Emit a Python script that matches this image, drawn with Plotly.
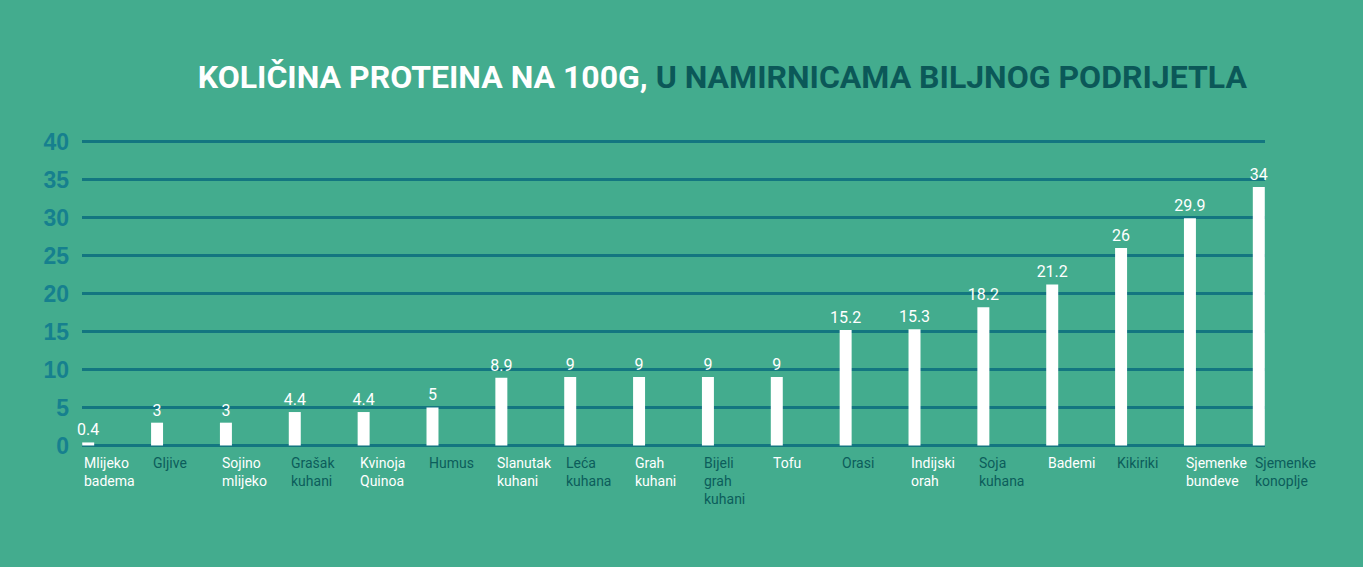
import plotly.graph_objects as go

# Data: protein per 100g in plant foods
categories = ["Mlijeko<br>badema", "Gljive", "Sojino<br>mlijeko", "Grašak<br>kuhani",
              "Kvinoja<br>Quinoa", "Humus", "Slanutak<br>kuhani", "Leća<br>kuhana",
              "Grah<br>kuhani", "Bijeli<br>grah<br>kuhani", "Tofu", "Orasi",
              "Indijski<br>orah", "Soja<br>kuhana", "Bademi", "Kikiriki",
              "Sjemenke<br>bundeve", "Sjemenke<br>konoplje"]
values = [0.4, 3, 3, 4.4, 4.4, 5, 8.9, 9, 9, 9, 9, 15.2, 15.3, 18.2, 21.2, 26, 29.9, 34]
value_labels = ["0.4", "3", "3", "4.4", "4.4", "5", "8.9", "9", "9", "9", "9",
                "15.2", "15.3", "18.2", "21.2", "26", "29.9", "34"]
y_ticks = [0, 5, 10, 15, 20, 25, 30, 35, 40]

BG = "#43ac8e"
GRID = "#137680"
DARK = "#0c5d5b"
NARROW = "Roboto, sans-serif"

idx = list(range(len(categories)))
bar_w = 0.174

fig = go.Figure(go.Bar(
    x=idx,
    y=values,
    width=bar_w,
    marker=dict(color="white", line=dict(width=0)),
    text=value_labels,
    textposition="outside",
    constraintext="none",
    textfont=dict(color="white", size=16, family=NARROW),
    cliponaxis=False,
))

# category labels, left aligned under each bar, alternating colours
for i, lab in enumerate(categories):
    fig.add_annotation(
        x=i - bar_w / 2, y=0, xref="x", yref="y",
        text=lab, showarrow=False,
        xanchor="left", yanchor="top", align="left", yshift=-8,
        font=dict(size=14, family=NARROW, color="white" if i % 2 == 0 else DARK),
    )

fig.update_layout(
    width=1363, height=567,
    paper_bgcolor=BG, plot_bgcolor=BG,
    margin=dict(l=82, r=98, t=140, b=120),
    showlegend=False,
    title=dict(
        text="KOLIČINA PROTEINA NA 100G, <span style='color:#0b5858'>U NAMIRNICAMA BILJNOG PODRIJETLA</span>",
        x=0.53, xanchor="center", y=0.865, yanchor="middle",
        font=dict(size=32, family=NARROW, color="white", weight="bold"),
    ),
    xaxis=dict(range=[-0.09, len(categories) - 1 + 0.09], showticklabels=False,
               showgrid=False, zeroline=False, showline=False, fixedrange=True),
    yaxis=dict(range=[-0.2, 40.2], tickvals=y_ticks, showgrid=True,
               gridcolor=GRID, gridwidth=3, zeroline=False, showline=False,
               ticklabelstandoff=12,
               tickfont=dict(size=23, family="Liberation Sans, Arial, sans-serif",
                             color="#16808e", weight="bold")),
)

fig.write_html("out.html", config={"displayModeBar": False},
               post_script="document.body.style.margin='0';")
